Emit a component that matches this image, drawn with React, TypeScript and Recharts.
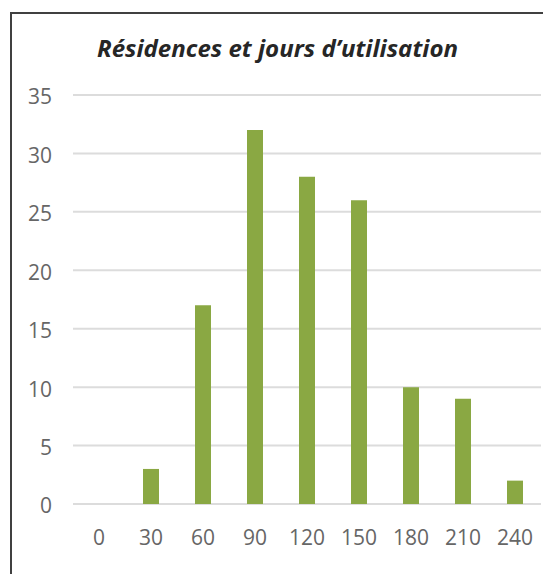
// Histogramme : nombre de résidences par tranche de jours d'utilisation.
import { Bar, BarChart, CartesianGrid, XAxis, YAxis } from "recharts";

const title = "Résidences et jours d’utilisation";
const days = ["0", "30", "60", "90", "120", "150", "180", "210", "240"];
const residences = [0, 3, 17, 32, 28, 26, 10, 9, 2];
const yTicks = [0, 5, 10, 15, 20, 25, 30, 35];

const data = days.map((d, i) => ({ days: d, count: residences[i] }));

const tickStyle = { fontFamily: "'Open Sans', sans-serif", fontSize: 21, fill: "#666666" };

export default function App() {
  return (
    <div style={{ position: "fixed", left: 0, top: 0, width: 543, height: 574, overflow: "hidden", background: "#fff" }}>
      <div
        style={{
          position: "absolute",
          left: 10,
          top: 12,
          width: 600,
          height: 600,
          border: "2px solid #404040",
          boxSizing: "border-box",
        }}
      />
      <svg width={543} height={80} style={{ position: "absolute", left: 0, top: 0 }}>
        <text
          x={277.5}
          y={57}
          textAnchor="middle"
          textLength={361}
          lengthAdjust="spacingAndGlyphs"
          fontFamily="'Open Sans', sans-serif"
          fontWeight="bold"
          fontStyle="italic"
          fontSize={24}
          fill="#262626"
        >
          {title}
        </text>
      </svg>
      <div style={{ position: "absolute", left: 0, top: 0 }}>
        <BarChart width={543} height={574} data={data} margin={{ top: 95, right: 2, bottom: 10, left: 0 }}>
          <CartesianGrid vertical={false} stroke="#dcdcdc" strokeWidth={2} />
          <XAxis
            dataKey="days"
            axisLine={false}
            tickLine={false}
            tickSize={6}
            tickMargin={20}
            height={60}
            interval={0}
            tick={tickStyle}
          />
          <YAxis
            domain={[0, 35]}
            ticks={yTicks}
            axisLine={false}
            tickLine={false}
            tickSize={6}
            tickMargin={15}
            width={73}
            tick={{ ...tickStyle, dy: 2 }}
          />
          <Bar dataKey="count" fill="#8aa843" barSize={16} isAnimationActive={false} />
        </BarChart>
      </div>
    </div>
  );
}
